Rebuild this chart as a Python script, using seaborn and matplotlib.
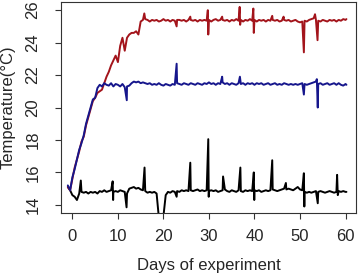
import numpy as np
import pandas as pd
import matplotlib
import matplotlib.pyplot as plt
import seaborn as sns

matplotlib.use("Agg")

# sampling grid (days), every half day from -1 to 60
days = np.arange(-1, 60.5, 0.5)

# warmest tank
red_temp = [
    15.1, 14.9, 15.6, 16.3, 16.8, 17.3, 17.9, 18.2, 18.9, 19.4,
    19.9, 20.4, 20.6, 20.9, 21.0, 21.1, 21.5, 21.9, 22.2, 22.6,
    22.9, 23.2, 22.8, 23.8, 24.3, 23.5, 24.3, 24.5, 24.6, 24.6,
    24.7, 24.5, 25.3, 25.4, 25.45, 25.4, 25.3, 25.4, 25.35, 25.4,
    25.3, 25.35, 25.45, 25.35, 25.4, 25.3, 25.4, 25.35, 25.4, 25.4,
    25.35, 25.4, 25.3, 25.4, 25.4, 25.35, 25.4, 25.3, 25.4, 25.35,
    25.4, 25.35, 25.4, 25.3, 25.4, 25.45, 25.35, 25.4, 25.4, 25.35,
    25.4, 25.3, 25.4, 25.35, 25.45, 25.35, 25.4, 25.3, 25.4, 25.35,
    25.45, 25.35, 25.4, 25.3, 25.4, 25.35, 25.4, 25.3, 25.4, 25.35,
    25.4, 25.35, 25.4, 25.3, 25.35, 25.4, 25.35, 25.4, 25.3, 25.35,
    25.4, 25.3, 25.25, 25.3, 25.35, 25.3, 25.4, 25.45, 25.5, 25.4,
    25.35, 25.3, 25.4, 25.35, 25.3, 25.4, 25.35, 25.4, 25.3, 25.4,
    25.35, 25.45, 25.4,
]

# middle tank
blue_temp = [
    15.2, 14.9, 15.7, 16.2, 16.8, 17.4, 17.8, 18.3, 19.0, 19.5,
    20.0, 20.5, 20.6, 21.2, 21.4, 21.3, 21.5, 21.4, 21.35, 21.5,
    21.3, 21.45, 21.4, 21.3, 21.45, 21.25, 21.3, 21.35, 21.5, 21.6,
    21.55, 21.6, 21.5, 21.55, 21.5, 21.45, 21.5, 21.4, 21.45, 21.4,
    21.5, 21.4, 21.35, 21.45, 21.4, 21.35, 21.45, 21.4, 21.5, 21.45,
    21.4, 21.5, 21.45, 21.4, 21.5, 21.45, 21.4, 21.5, 21.45, 21.4,
    21.5, 21.45, 21.55, 21.45, 21.5, 21.4, 21.5, 21.45, 21.55, 21.45,
    21.5, 21.4, 21.5, 21.45, 21.4, 21.5, 21.45, 21.5, 21.4, 21.5,
    21.45, 21.5, 21.4, 21.5, 21.45, 21.5, 21.4, 21.45, 21.5, 21.4,
    21.45, 21.5, 21.4, 21.45, 21.4, 21.5, 21.45, 21.4, 21.45, 21.4,
    21.45, 21.4, 21.45, 21.5, 21.45, 21.4, 21.45, 21.5, 21.55, 21.6,
    21.45, 21.5, 21.4, 21.45, 21.5, 21.4, 21.45, 21.5, 21.4, 21.5,
    21.4, 21.35, 21.45,
]

# control tank
black_temp = [
    15.1, 14.9, 14.6, 14.5, 14.3, 14.7, 14.8, 14.75, 14.8, 14.7,
    14.8, 14.75, 14.8, 14.7, 14.85, 14.8, 14.9, 14.8, 14.85, 14.9,
    14.8, 14.85, 14.8, 14.9, 14.85, 14.8, 14.7, 15.0, 15.05, 15.1,
    15.0, 15.05, 14.95, 14.9, 14.85, 14.75, 14.8, 14.75, 14.8, 14.7,
    13.2, 13.2, 13.3, 14.6, 14.8, 14.75, 14.85, 14.8, 14.85, 14.8,
    14.9, 14.85, 14.9, 14.85, 14.9, 14.85, 14.9, 14.95, 14.85, 14.9,
    14.85, 14.9, 14.85, 14.9, 14.85, 14.9, 14.8, 14.85, 14.9, 14.95,
    14.85, 14.8, 14.9, 14.85, 14.8, 14.9, 14.85, 14.8, 14.9, 14.85,
    14.9, 14.85, 14.9, 14.85, 14.9, 14.8, 14.85, 14.9, 14.85, 14.9,
    14.95, 14.9, 14.85, 14.9, 14.95, 15.0, 14.95, 15.0, 14.95, 14.9,
    15.0, 15.1, 14.95, 14.9, 14.8, 14.75, 14.8, 14.75, 14.8, 14.85,
    14.8, 14.85, 14.8, 14.75, 14.8, 14.85, 14.8, 14.75, 14.8, 14.85,
    14.8, 14.85, 14.8,
]

# short spikes between the half-day readings (day: temp)
red_spikes = {15.8: 25.8, 22.9: 25.0, 25.9: 25.6, 29.75: 26.0, 29.85: 24.5,
              32.9: 25.6, 36.75: 26.2, 36.85: 25.1, 39.75: 26.1, 39.85: 24.6,
              43.9: 25.65, 46.4: 25.6, 50.85: 23.4, 53.3: 25.75, 53.85: 24.15,
              60.2: 25.45}
blue_spikes = {11.95: 20.45, 22.9: 22.7, 32.9: 21.9, 36.8: 21.9, 50.85: 20.8,
               53.7: 21.75, 53.9: 20.0, 60.2: 21.4}
black_spikes = {1.85: 15.5, 8.85: 15.45, 8.95: 14.3, 11.9: 13.85, 15.85: 16.3,
                22.9: 14.5, 25.9: 16.6, 29.85: 18.05, 29.95: 14.5, 33.1: 15.75,
                36.9: 16.3, 39.85: 16.0, 39.95: 14.3, 43.9: 16.75, 46.9: 15.35,
                50.85: 15.95, 50.95: 13.9, 53.9: 14.1, 58.15: 15.85, 58.3: 14.6,
                60.2: 14.8}


def make_series(base, spikes):
    d = pd.DataFrame({"Day": days, "Temp": base})
    s = pd.DataFrame({"Day": list(spikes.keys()), "Temp": list(spikes.values())})
    return pd.concat([d, s]).sort_values("Day").reset_index(drop=True)


red_df = make_series(red_temp, red_spikes)
blue_df = make_series(blue_temp, blue_spikes)
black_df = make_series(black_temp, black_spikes)

sns.set_style("white", {"xtick.bottom": True, "ytick.left": True})
plt.rcParams['font.family'] = ['Liberation Sans', 'DejaVu Sans']

fig = plt.figure(figsize=(3.58, 2.75), dpi=100)
ax = fig.add_axes([0.1704, 0.2255, 0.824, 0.767])

for df, c in [(black_df, "black"), (red_df, "#A3141B"), (blue_df, "#16168C")]:
    sns.lineplot(data=df, x="Day", y="Temp", color=c, lw=1.4, ax=ax,
                 estimator=None, sort=False)

ax.set_xlim(-2.5, 62.3)
ax.set_ylim(13.5, 26.5)
ax.set_xticks([0, 10, 20, 30, 40, 50, 60])
ax.set_yticks([14, 16, 18, 20, 22, 24, 26])
ax.tick_params(axis="both", direction="out", length=4.3, width=0.8,
               labelsize=12, color="#333333", left=True, bottom=True)
ax.tick_params(axis="x", pad=7)
ax.tick_params(axis="y", pad=16)
for lab in ax.get_yticklabels():
    lab.set_rotation(90)
    lab.set_va("center")
    lab.set_ha("center")
for sp in ax.spines.values():
    sp.set_color("#333333")
    sp.set_linewidth(0.8)

ax.set_xlabel("Days of experiment", fontsize=12, labelpad=10)
ax.set_ylabel("Temperature(°C)", fontsize=12)
ax.yaxis.set_label_coords(-0.155, 0.5)

fig.savefig("out.png", dpi=100)
